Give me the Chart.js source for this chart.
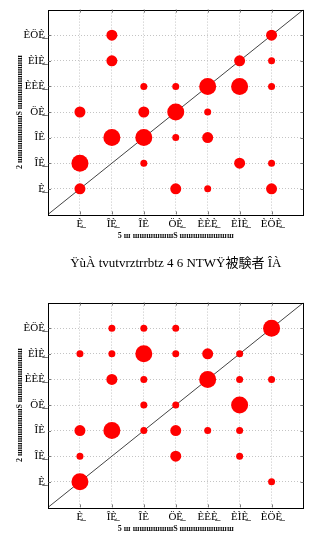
<!DOCTYPE html>
<html>
<head>
<meta charset="utf-8">
<script src="https://cdn.jsdelivr.net/npm/chart.js@4"></script>
<style>
  html, body { margin: 0; padding: 0; background: #fff; }
  body { width: 312px; height: 547px; overflow: hidden; }
  canvas { display: block; }
</style>
</head>
<body>
<canvas id="chartA" width="312" height="293"></canvas>
<canvas id="chartB" width="312" height="293"></canvas>
<script>
// tick labels (as printed, font got mangled in the source figure)
var tickLabels = ['', 'È̲', 'ÎÈ̲', 'ÎÈ', 'ÖÈ̲', 'ÈÈÈ̲', 'ÈÌÈ̲', 'ÈÖÈ̲', ''];
var xTitle = '5 ш шшшшшшЅ шшшшшшшш';
var yTitle = '2 шшшшшшшЅ шшшшшшшш';
var titleA = 'ŸùÀ tvutvrztrrbtz 4 6 NTWŸ被験者 ÎÀ';
var titleB = 'ŸùÀ tvutvrztrrbtz 4 6 NTWŸ被験者 ÎÁ';

// chart A: (x, y, count)
var xsA = [2, 7, 2, 6, 7, 3, 4, 5, 6, 7, 1, 3, 4, 5, 2, 3, 4, 5, 1, 3, 6, 7, 1, 4, 5, 7];
var ysA = [7, 7, 6, 6, 6, 5, 5, 5, 5, 5, 4, 4, 4, 4, 3, 3, 3, 3, 2, 2, 2, 2, 1, 1, 1, 1];
var nA  = [2, 2, 2, 2, 1, 1, 1, 3, 3, 1, 2, 2, 3, 1, 3, 3, 1, 2, 3, 1, 2, 1, 2, 2, 1, 2];

// chart B
var xsB = [2, 3, 4, 7, 1, 2, 3, 4, 5, 6, 2, 3, 5, 6, 7, 3, 4, 6, 1, 2, 3, 4, 5, 6, 1, 4, 6, 1, 7];
var ysB = [7, 7, 7, 7, 6, 6, 6, 6, 6, 6, 5, 5, 5, 5, 5, 4, 4, 4, 3, 3, 3, 3, 3, 3, 2, 2, 2, 1, 1];
var nB  = [1, 1, 1, 3, 1, 1, 3, 1, 2, 1, 2, 1, 3, 1, 1, 1, 1, 3, 2, 3, 1, 2, 1, 1, 1, 2, 1, 3, 1];

var radius = [0, 3.5, 5.5, 8.5];
var serif = "'Liberation Serif', 'Noto Sans CJK JP'";

// frame + little inward ticks like the matlab style
var framePlugin = {
    id: 'frame',
    afterDraw: function(chart) {
        var ctx = chart.ctx, a = chart.chartArea;
        var xs = chart.scales.x, ys = chart.scales.y;
        ctx.save();
        ctx.strokeStyle = '#000';
        ctx.lineWidth = 1;
        ctx.strokeRect(Math.round(a.left) + 0.5, Math.round(a.top) + 0.5,
            Math.round(a.right - a.left) - 1, Math.round(a.bottom - a.top));
        ctx.lineWidth = 0.8;
        ctx.strokeStyle = '#555';
        ctx.beginPath();
        for (var v = 1; v <= 7; v++) {
            var px = Math.round(xs.getPixelForValue(v)) + 0.5;
            var py = Math.round(ys.getPixelForValue(v)) + 0.5;
            ctx.moveTo(px, a.bottom); ctx.lineTo(px, a.bottom - 3);
            ctx.moveTo(px, a.top); ctx.lineTo(px, a.top + 3);
            ctx.moveTo(a.left, py); ctx.lineTo(a.left + 3, py);
            ctx.moveTo(a.right, py); ctx.lineTo(a.right - 3, py);
        }
        ctx.stroke();
        ctx.restore();
    }
};

function axis(titleText, isX) {
    return {
        type: 'linear',
        min: 0,
        max: 8,
        afterFit: function(s) {
            if (isX) s.height = 30; else s.width = 48;
        },
        ticks: {
            stepSize: 1,
            autoSkip: false,
            padding: 3,
            maxRotation: 0,
            color: '#000',
            font: { family: serif, size: 11 },
            callback: function(v) { return tickLabels[v]; }
        },
        grid: {
            drawTicks: false,
            lineWidth: 1,
            color: function(c) {
                var v = c.tick ? c.tick.value : 0;
                return (v >= 1 && v <= 7) ? '#c4c4c4' : 'rgba(0,0,0,0)';
            }
        },
        border: { display: false, dash: [1, 2] },
        title: {
            display: true,
            text: titleText,
            color: '#111',
            padding: isX ? 4 : 15,
            font: { family: serif, size: 8, weight: 'bold' }
        }
    };
}

function makeChart(id, xs, ys, ns, title) {
    var pts = [];
    for (var i = 0; i < xs.length; i++) {
        pts.push({ x: xs[i], y: ys[i], r: radius[ns[i]] });
    }
    return new Chart(document.getElementById(id).getContext('2d'), {
        type: 'bubble',
        data: {
            datasets: [{
                type: 'bubble',
                data: pts,
                backgroundColor: '#ff0000',
                borderColor: '#ff0000',
                borderWidth: 0,
                order: 0
            }, {
                type: 'line',
                data: [{ x: 0, y: 0 }, { x: 8, y: 8 }],
                borderColor: '#444',
                borderWidth: 1,
                pointRadius: 0,
                fill: false,
                order: 1
            }]
        },
        options: {
            responsive: false,
            animation: false,
            devicePixelRatio: 1,
            layout: { padding: { top: 7, right: 1.5, left: 0, bottom: 0 } },
            scales: { x: axis(xTitle, true), y: axis(yTitle, false) },
            plugins: {
                legend: { display: false },
                tooltip: { enabled: false },
                title: {
                    display: true,
                    position: 'bottom',
                    fullSize: false,
                    text: title,
                    color: '#000',
                    padding: { top: 11, bottom: 22 },
                    font: { family: serif, size: 13, weight: 'normal', lineHeight: 1.2 }
                }
            }
        },
        plugins: [framePlugin]
    });
}

makeChart('chartA', xsA, ysA, nA, titleA);
makeChart('chartB', xsB, ysB, nB, titleB);
</script>
</body>
</html>
